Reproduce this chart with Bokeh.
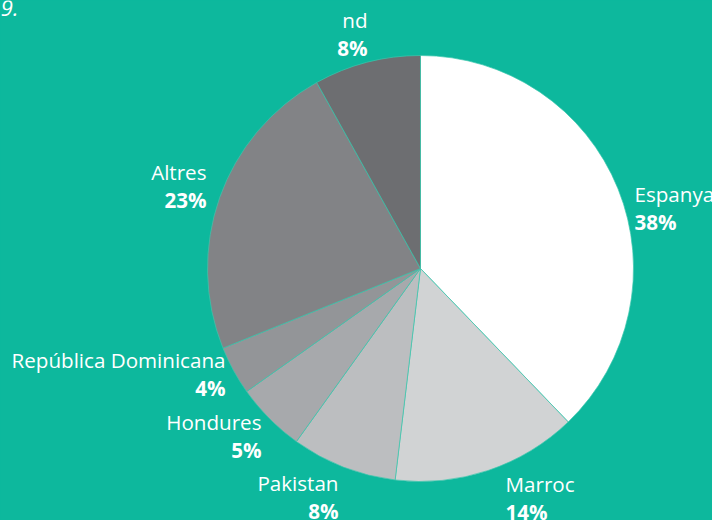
import math
from bokeh.plotting import figure
from bokeh.models import Range1d, ColumnDataSource, GlobalInlineStyleSheet
from bokeh.core.properties import value
from bokeh.embed import file_html
from bokeh.resources import INLINE

# ---- data ----
categories = ["Espanya", "Marroc", "Pakistan", "Hondures", "República Dominicana", "Altres", "nd"]
shares = [37.8, 14.1, 8.0, 5.3, 3.7, 23.0, 8.1]
pct_labels = ["38%", "14%", "8%", "5%", "4%", "23%", "8%"]
colors = ["#FFFFFF", "#D1D3D4", "#BCBEC0", "#A7A9AC", "#939598", "#828386", "#6D6E71"]

# ---- layout ----
W, H = 712, 520
BG = "#0DB89D"
CX, CY, R = 420, H - 268, 213
# label anchors (screen px: x, baseline of name line) and alignment
label_x = [634, 505, 338, 261, 225, 206, 367]
label_base = [201, 491, 490, 429, 367, 179, 27]
label_align = ["left", "left", "right", "right", "right", "right", "right"]
LINE_GAP = 28
TEXT_SHIFT = 8  # renderer baseline correction

total = sum(shares)
starts, ends = [], []
acc = 0.0
for s in shares:
    a0 = acc / total
    acc += s
    a1 = acc / total
    # clockwise from 12 o'clock
    starts.append(math.pi / 2 - 2 * math.pi * a1)
    ends.append(math.pi / 2 - 2 * math.pi * a0)

src = ColumnDataSource(dict(cat=categories, start=starts, end=ends, color=colors))

p = figure(width=W, height=H, x_range=Range1d(0, W), y_range=Range1d(0, H),
           output_backend="svg", toolbar_location=None,
           x_axis_location=None, y_axis_location=None, min_border=0)
p.grid.visible = False
p.outline_line_color = None
p.background_fill_color = BG
p.border_fill_color = BG
p.stylesheets = [GlobalInlineStyleSheet(css=f"html, body {{ margin: 0; padding: 0; background: {BG}; overflow: hidden; }}")]

p.wedge(x=CX, y=CY, radius=R, start_angle="start", end_angle="end",
        fill_color="color", line_color="#3CC7AE", line_width=0.7, source=src)

lab = ColumnDataSource(dict(
    x=label_x,
    y_name=[H - b + TEXT_SHIFT for b in label_base],
    y_pct=[H - b - LINE_GAP + TEXT_SHIFT for b in label_base],
    name=categories, pct=pct_labels, align=label_align))

p.text(x="x", y="y_name", text="name", text_align="align", text_baseline="alphabetic",
       text_color="white", text_font=value("Open Sans"), text_font_size="20.6px", source=lab)
p.text(x="x", y="y_pct", text="pct", text_align="align", text_baseline="alphabetic",
       text_color="white", text_font=value("Open Sans"), text_font_size="20.6px",
       text_font_style="bold", source=lab)

p.text(x=[18], y=[H - 15.5 + TEXT_SHIFT], text=["9."], text_align="right", text_baseline="alphabetic",
       text_color="white", text_font=value("Open Sans"), text_font_size="22px",
       text_font_style="italic")

open("out.html", "w").write(file_html(p, INLINE))
